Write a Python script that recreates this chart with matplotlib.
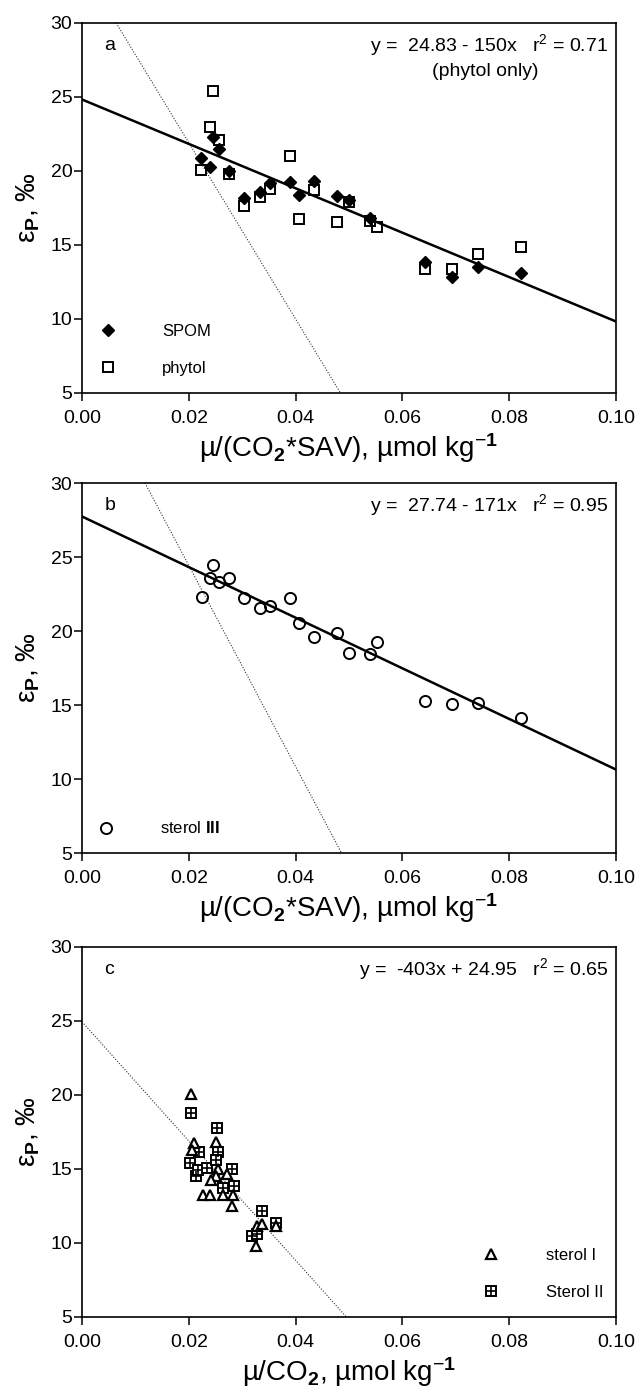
import numpy as np
import matplotlib
matplotlib.use('Agg')
import matplotlib.pyplot as plt

plt.rcParams['font.family'] = ['Liberation Sans', 'DejaVu Sans']
plt.rcParams['mathtext.fontset'] = 'custom'
plt.rcParams['mathtext.rm'] = 'Liberation Sans'
plt.rcParams['mathtext.it'] = 'Liberation Sans:italic'
plt.rcParams['mathtext.bf'] = 'Liberation Sans:bold'

# panel a: SPOM and phytol
spom_x = [0.0223, 0.0240, 0.0246, 0.0256, 0.0275, 0.0304, 0.0334, 0.0353, 0.0390,
          0.0407, 0.0434, 0.0477, 0.0500, 0.0539, 0.0643, 0.0692, 0.0741, 0.0822]
spom_y = [20.85, 20.29, 22.27, 21.46, 20.02, 18.15, 18.60, 19.16, 19.25,
          18.38, 19.32, 18.33, 18.04, 16.80, 13.84, 12.82, 13.54, 13.09]
phytol_x = [0.0246, 0.0239, 0.0256, 0.0223, 0.0275, 0.0304, 0.0334, 0.0353, 0.0389, 0.0407,
            0.0434, 0.0477, 0.0500, 0.0539, 0.0552, 0.0643, 0.0692, 0.0741, 0.0822]
phytol_y = [25.41, 22.99, 22.09, 20.06, 19.77, 17.66, 18.22, 18.76, 21.03, 16.78,
            18.69, 16.58, 17.90, 16.60, 16.24, 13.39, 13.36, 14.40, 14.89]
fit_a = (24.83, -150)
ref_a_x = [0.0064, 0.0484]
ref_a_y = [30, 5]

# panel b: sterol III
s3_x = [0.0225, 0.0240, 0.0246, 0.0256, 0.0275, 0.0304, 0.0334, 0.0353, 0.0389, 0.0407,
        0.0434, 0.0477, 0.0500, 0.0539, 0.0552, 0.0643, 0.0692, 0.0741, 0.0822]
s3_y = [22.31, 23.57, 24.47, 23.30, 23.57, 22.24, 21.57, 21.68, 22.20, 20.56,
        19.59, 19.86, 18.53, 18.47, 19.23, 15.27, 15.05, 15.14, 14.15]
fit_b = (27.74, -171)
ref_b_x = [0.0118, 0.0486]
ref_b_y = [30, 5]

# panel c: sterol I and sterol II
s1_x = [0.0205, 0.0210, 0.0206, 0.0251, 0.0255, 0.0251, 0.0242, 0.0227, 0.0239,
        0.0264, 0.0272, 0.0283, 0.0281, 0.0325, 0.0327, 0.0338, 0.0363]
s1_y = [20.09, 16.78, 16.29, 16.85, 15.00, 14.50, 14.27, 13.26, 13.26,
        13.26, 14.67, 13.26, 12.48, 9.80, 11.15, 11.26, 11.15]
s2_x = [0.0205, 0.0252, 0.0203, 0.0219, 0.0214, 0.0217, 0.0235, 0.0255,
        0.0251, 0.0281, 0.0264, 0.0284, 0.0338, 0.0319, 0.0327, 0.0364]
s2_y = [18.80, 17.79, 15.40, 16.18, 14.50, 14.95, 15.05, 16.18,
        15.62, 15.00, 13.70, 13.82, 12.19, 10.48, 10.59, 11.37]
fit_c = (24.95, -403)

xticks = [0.00, 0.02, 0.04, 0.06, 0.08, 0.10]
yticks = [5, 10, 15, 20, 25, 30]

ylabel = 'ε$_\\mathbf{P}$, ‰'
xlabel_ab = 'µ/(CO$_\\mathbf{2}$*SAV), µmol kg$^{-\\mathbf{1}}$'
xlabel_c = 'µ/CO$_\\mathbf{2}$, µmol kg$^{-\\mathbf{1}}$'

dot_style = dict(color='0.2', lw=0.8, linestyle=(0, (1, 1.5)))


def setup_axes(ax, xlabel, letter):
	ax.set_xlim(0, 0.1)
	ax.set_ylim(5, 30)
	ax.set_xticks(xticks)
	ax.set_xticklabels(['%.2f' % t for t in xticks])
	ax.set_yticks(yticks)
	ax.tick_params(direction='out', length=6, width=1.1, labelsize=14)
	ax.tick_params(axis='y', pad=1)
	ax.tick_params(axis='x', pad=6)
	for s in ax.spines.values():
		s.set_linewidth(1.2)
	ax.set_xlabel(xlabel, fontsize=20, labelpad=3)
	ax.set_ylabel(ylabel, fontsize=20, labelpad=6)
	ax.text(0.042, 0.94, letter, transform=ax.transAxes, fontsize=14, va='center')


fig = plt.figure(figsize=(6.38, 13.92), dpi=100)

# ---- panel a
ax = fig.add_axes([0.1285, 0.7177, 0.837, 0.2658])
xx = np.array([0, 0.1])
ax.plot(ref_a_x, ref_a_y, **dot_style)
ax.plot(xx, fit_a[0] + fit_a[1] * xx, color='black', lw=1.8)
h2, = ax.plot(phytol_x, phytol_y, 's', ms=7.5, mfc='none', mec='black', mew=1.4)
h1, = ax.plot(spom_x, spom_y, 'D', ms=6.3, color='black')
ax.legend([h1, h2], ['SPOM', 'phytol'], loc='lower left', bbox_to_anchor=(0.034, 0.045),
          frameon=False, fontsize=12, handlelength=1, handletextpad=2.7, labelspacing=1.35,
          borderaxespad=0, borderpad=0)
ax.text(0.986, 0.94, 'y =  24.83 - 150x   r$^2$ = 0.71', transform=ax.transAxes,
        fontsize=14, ha='right', va='center')
ax.text(0.755, 0.868, '(phytol only)', transform=ax.transAxes, fontsize=14, ha='center', va='center')
setup_axes(ax, xlabel_ab, 'a')

# ---- panel b
ax = fig.add_axes([0.1285, 0.3872, 0.837, 0.2658])
ax.plot(ref_b_x, ref_b_y, **dot_style)
ax.plot(xx, fit_b[0] + fit_b[1] * xx, color='black', lw=1.8)
h3, = ax.plot(s3_x, s3_y, 'o', ms=8, mfc='none', mec='black', mew=1.4)
ax.legend([h3], ['sterol $\\mathbf{III}$'], loc='lower left', bbox_to_anchor=(0.030, 0.045),
          frameon=False, fontsize=12, handlelength=1, handletextpad=2.7,
          borderaxespad=0, borderpad=0)
ax.text(0.986, 0.94, 'y =  27.74 - 171x   r$^2$ = 0.95', transform=ax.transAxes,
        fontsize=14, ha='right', va='center')
setup_axes(ax, xlabel_ab, 'b')

# ---- panel c
ax = fig.add_axes([0.1285, 0.0539, 0.837, 0.2658])
xc = np.array([0, (5 - fit_c[0]) / fit_c[1]])
ax.plot(xc, fit_c[0] + fit_c[1] * xc, **dot_style)
h5, = ax.plot(s2_x, s2_y, 's', ms=7, mfc='white', mec='black', mew=1.4)
h6, = ax.plot(s2_x, s2_y, '+', ms=7, mec='black', mew=1.2)
h4, = ax.plot(s1_x, s1_y, '^', ms=7.5, mfc='white', mec='black', mew=1.6)
ax.legend([h4, (h5, h6)], ['sterol I', 'Sterol II'], loc='lower left', bbox_to_anchor=(0.75, 0.045),
          frameon=False, fontsize=12, handlelength=1, handletextpad=2.8, labelspacing=1.35,
          borderaxespad=0, borderpad=0)
ax.text(0.986, 0.94, 'y =  -403x + 24.95   r$^2$ = 0.65', transform=ax.transAxes,
        fontsize=14, ha='right', va='center')
setup_axes(ax, xlabel_c, 'c')

fig.savefig('out.png', dpi=100)
